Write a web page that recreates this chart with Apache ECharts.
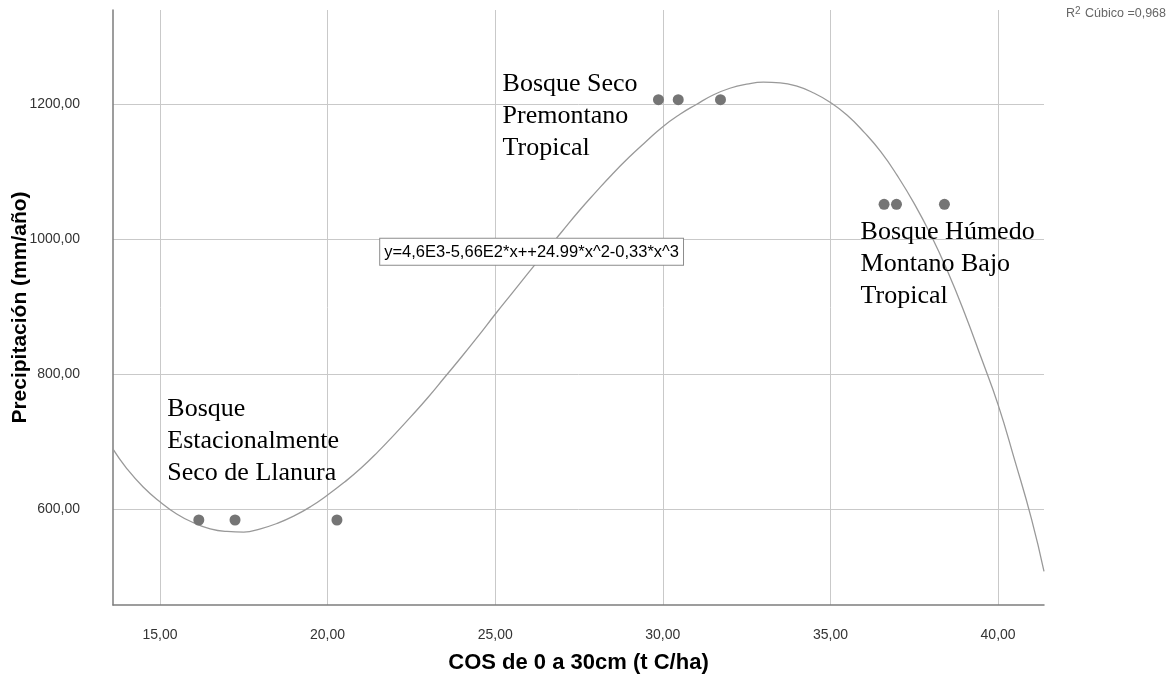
<!DOCTYPE html>
<html>
<head>
<meta charset="utf-8">
<script src="https://cdn.jsdelivr.net/npm/echarts@6/dist/echarts.min.js"></script>
<style>
html,body{margin:0;padding:0;background:#fff;}
#chart{width:1171px;height:678px;}
</style>
</head>
<body>
<div id="chart"></div>
<script>
// Observed points: COS (t C/ha) vs precipitation (mm/año)
var cosValues = [16.16, 17.24, 20.28, 29.87, 30.46, 31.72, 36.60, 36.97, 38.40];
var precipValues = [584, 584, 584, 1207, 1207, 1207, 1052, 1052, 1052];

// Cubic fit curve
var curveX = [13.6, 14.0, 14.5, 15.0, 15.5, 16.0, 16.5, 17.0, 17.5, 18.0, 18.5, 19.0, 19.5, 20.0, 20.5, 21.0, 21.5, 22.0, 22.5, 23.0, 23.5, 24.0, 24.5, 25.0, 25.5, 26.0, 26.5, 27.0, 27.5, 28.0, 28.5, 29.0, 29.5, 30.0, 30.5, 31.0, 31.5, 32.0, 32.5, 33.0, 33.5, 34.0, 34.5, 35.0, 35.5, 36.0, 36.5, 37.0, 37.5, 38.0, 38.5, 39.0, 39.5, 40.0, 40.5, 41.0, 41.37];
var curveY = [689, 661, 633, 611, 593, 580, 571, 567, 566, 571, 579, 590, 604, 621, 640, 661, 685, 711, 738, 766, 796, 826, 857, 889, 920, 951, 982, 1012, 1042, 1070, 1097, 1122, 1145, 1167, 1185, 1200, 1214, 1224, 1230, 1233, 1232, 1227, 1217, 1203, 1184, 1159, 1130, 1094, 1053, 1006, 952, 891, 824, 755, 672, 585, 508];

// Tick labels
var xTicks = [15, 20, 25, 30, 35, 40];
var yTicks = [600, 800, 1000, 1200];

// Axis titles
var xTitle = 'COS de 0 a 30cm (t C/ha)';
var yTitle = 'Precipitación (mm/año)';

// Annotations (anchored in data coordinates: left/top of text)
var annotTexts = ['Bosque\nEstacionalmente\nSeco de Llanura', 'Bosque Seco\nPremontano\nTropical', 'Bosque Húmedo\nMontano Bajo\nTropical'];
var annotX = [15.22, 25.22, 35.9];
var annotY = [772, 1254, 1034];
var equationText = 'y=4,6E3-5,66E2*x++24.99*x^2-0,33*x^3';
var equationAnchor = [21.57, 1001];
var r2Text = 'R{sup|2} Cúbico =0,968';

function fmt(v){ return v.toFixed(2).replace('.', ','); }

var chart = echarts.init(document.getElementById('chart'), null, {renderer:'canvas'});

var gridColor = '#c9c9c9';
var sans = 'Liberation Sans, Arial, sans-serif';
var yMin = 458, yMax = 1340;
var option = {
  animation: false,
  backgroundColor: '#ffffff',
  grid: {left: 113, right: 127, top: 10, bottom: 73, containLabel: false, outerBoundsMode: 'none'},
  xAxis: {
    type: 'value', min: 13.6, max: 41.37,
    name: xTitle, nameLocation: 'middle', nameGap: 47,
    nameTextStyle: {fontFamily: sans, fontSize: 22, fontWeight: 'bold', color: '#000'},
    axisLine: {show: true, lineStyle: {color: '#7d7d7d', width: 1.5}},
    axisTick: {show: false, customValues: xTicks},
    axisLabel: {customValues: xTicks, formatter: fmt, margin: 23, fontFamily: sans, fontSize: 14, color: '#333'},
    splitLine: {show: true, lineStyle: {color: gridColor, width: 1}}
  },
  yAxis: {
    type: 'value', min: yMin, max: yMax,
    axisLine: {show: true, lineStyle: {color: '#7d7d7d', width: 1.5}},
    axisTick: {show: false, customValues: yTicks},
    axisLabel: {customValues: yTicks, formatter: fmt, margin: 33, fontFamily: sans, fontSize: 14, color: '#333'},
    splitLine: {show: true, lineStyle: {color: gridColor, width: 1}}
  },
  series: [
    {
      type: 'line', data: curveX.map(function(x, i){ return [x, curveY[i]]; }),
      smooth: true, showSymbol: false, symbol: 'none',
      lineStyle: {color: '#999', width: 1.3}, z: 2, silent: true
    },
    {
      type: 'scatter', data: cosValues.map(function(x, i){ return [x, precipValues[i]]; }),
      symbol: 'circle', symbolSize: 11,
      itemStyle: {color: '#757575', opacity: 1}, z: 3
    }
  ]
};
chart.setOption(option);

function placeGraphics(){
  var els = [];
  var serif = 'Liberation Serif, Times New Roman, serif';
  for (var i = 0; i < annotTexts.length; i++) {
    var p = chart.convertToPixel({gridIndex: 0}, [annotX[i], annotY[i]]);
    els.push({type: 'text', x: p[0], y: p[1], z: 10,
      style: {text: annotTexts[i], fontFamily: serif, fontSize: 26, lineHeight: 32, fill: '#000', textAlign: 'left', textVerticalAlign: 'top'}});
  }
  var e = chart.convertToPixel({gridIndex: 0}, equationAnchor);
  els.push({type: 'text', x: e[0], y: e[1], z: 10,
    style: {text: equationText, fontFamily: sans, fontSize: 16.5, fill: '#000',
      backgroundColor: '#fff', borderColor: '#8c8c8c', borderWidth: 1, padding: [5, 4, 4, 4], textVerticalAlign: 'top'}});
  // y axis title, centred on the plot's vertical middle
  var mid = chart.convertToPixel({gridIndex: 0}, [13.6, (yMin + yMax) / 2]);
  els.push({type: 'text', x: 20, y: mid[1], rotation: Math.PI / 2, z: 10,
    style: {text: yTitle, fontFamily: sans, fontSize: 21, fontWeight: 'bold', fill: '#000', textAlign: 'center', textVerticalAlign: 'middle'}});
  els.push({type: 'text', right: 5, top: 6, z: 10,
    style: {text: r2Text, fontFamily: sans, fontSize: 12.5, fill: '#666',
      rich: {sup: {fontSize: 10, verticalAlign: 'top', fill: '#666', padding: [0, 1, 5, 0]}}}});
  chart.setOption({graphic: els});
}
placeGraphics();
</script>
</body>
</html>
